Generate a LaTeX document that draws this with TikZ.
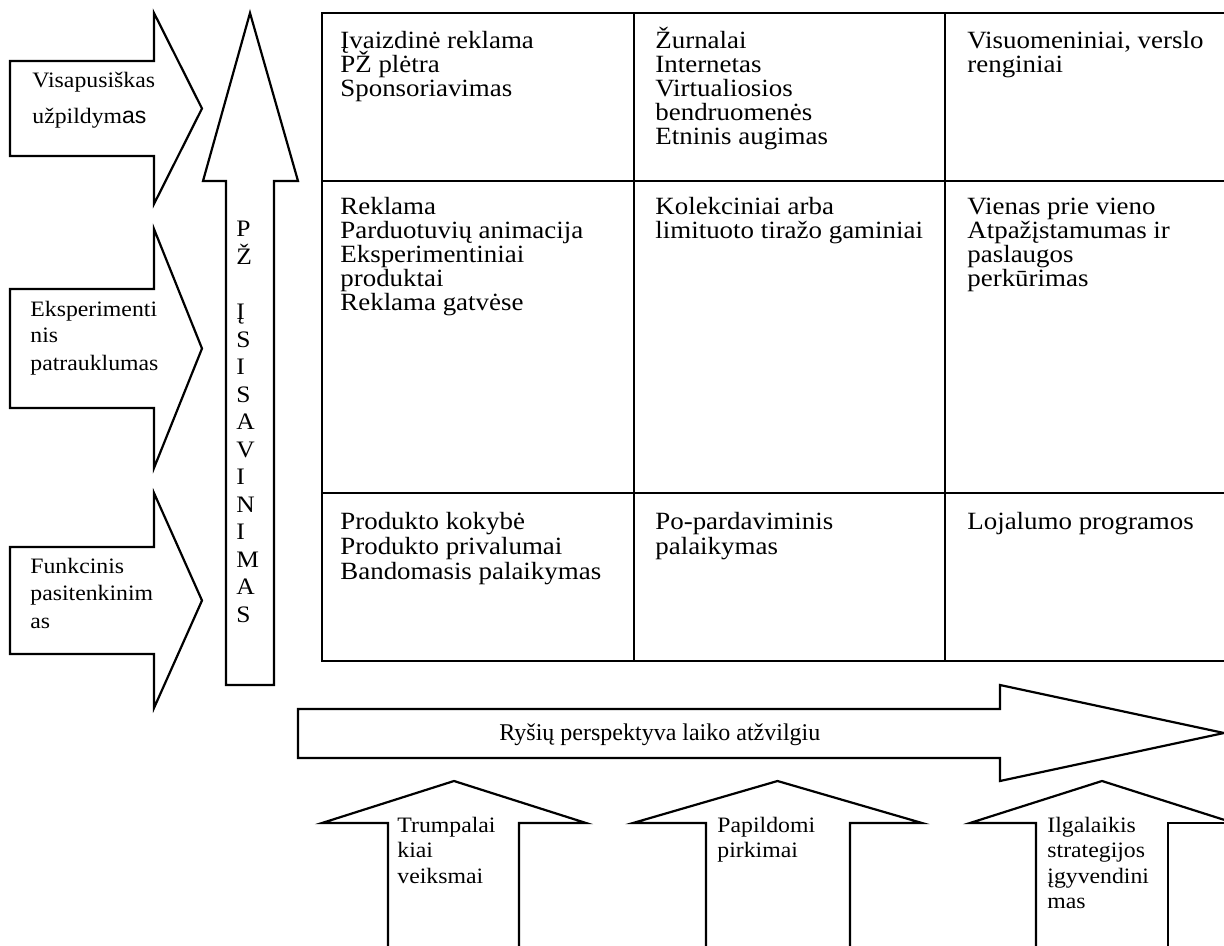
\documentclass[tikz,border=0pt]{standalone}
\usepackage{fontspec}
\setmainfont{Liberation Serif}
\newfontfamily\cellfont{Liberation Serif}[FakeStretch=1.085]
\newfontfamily\sidefont{Liberation Serif}[FakeStretch=1.08]
\newfontfamily\arialfont{Liberation Sans}

\tikzset{
  outline/.style={draw=black, line width=1.1pt, line join=miter},
  celltext/.style={anchor=base west, inner sep=0pt, font=\cellfont\fontsize{12.4}{14}\selectfont},
  sidetext/.style={anchor=base west, inner sep=0pt, font=\sidefont\fontsize{11}{13}\selectfont},
  lettertext/.style={anchor=base west, inner sep=0pt, font=\sidefont\fontsize{11.8}{14}\selectfont},
  axistext/.style={anchor=base west, inner sep=0pt, font=\fontsize{12}{14}\selectfont},
}

% name, style, x, first baseline, line pitch, list of lines
\newcommand\textlines[6]{%
  \foreach \t [count=\i from 0] in {#6}{%
    \node[#2] (#1-\i) at (#3,{#4+\i*#5}) {\t};
  }%
}

\begin{document}
\begin{tikzpicture}[x=0.5pt,y=-0.5pt]
\useasboundingbox (0,0) rectangle (1224,946);

% --- arrows on the left ---
\draw[outline] (10,61) -- (154,61) -- (154,13) -- (202,108.5) -- (154,204) -- (154,156) -- (10,156) -- cycle;
\draw[outline] (10,289) -- (154,289) -- (154,229) -- (202,348.5) -- (154,468) -- (154,408) -- (10,408) -- cycle;
\draw[outline] (10,547) -- (154,547) -- (154,493) -- (202,600.5) -- (154,708) -- (154,654) -- (10,654) -- cycle;

\node[sidetext] (l1-0) at (32,88) {Visapusiškas};
\node[sidetext] (l1-1) at (32,124) {užpildym{\arialfont\fontsize{11.5}{13}\selectfont as}};
\textlines{l2}{sidetext}{30}{316}{27}{Eksperimenti,nis,patrauklumas}
\textlines{l3}{sidetext}{30}{573}{27.5}{Funkcinis,pasitenkinim,as}

% --- vertical arrow ---
\draw[outline] (226,685) -- (226,181) -- (203,181) -- (250,13) -- (298,181) -- (274,181) -- (274,685) -- cycle;
\textlines{va}{lettertext}{236}{237}{27.5}{P,Ž}
\textlines{vb}{lettertext}{236}{319.5}{27.5}{Į,S,I,S,A,V,I,N,I,M,A,S}

% --- table ---
\draw[outline] (1224,13) -- (322,13) -- (322,661) -- (1224,661);
\draw[outline] (322,181) -- (1224,181);
\draw[outline] (322,493) -- (1224,493);
\draw[outline] (634,13) -- (634,661);
\draw[outline] (945,13) -- (945,661);

\textlines{c11}{celltext}{340}{49}{24}{Įvaizdinė reklama,PŽ plėtra,Sponsoriavimas}
\textlines{c12}{celltext}{655}{49}{24}{Žurnalai,Internetas,Virtualiosios,bendruomenės,Etninis augimas}
\textlines{c13}{celltext}{967}{49}{24}{{Visuomeniniai, verslo},renginiai}
\textlines{c21}{celltext}{340}{215}{24}{Reklama,Parduotuvių animacija,Eksperimentiniai,produktai,Reklama gatvėse}
\textlines{c22}{celltext}{655}{215}{24}{Kolekciniai arba,limituoto tiražo gaminiai}
\textlines{c23}{celltext}{967}{215}{24}{Vienas prie vieno,Atpažįstamumas ir,paslaugos,perkūrimas}
\textlines{c31}{celltext}{340}{529}{25}{Produkto kokybė,Produkto privalumai,Bandomasis palaikymas}
\textlines{c32}{celltext}{655}{529}{25}{Po-pardaviminis,palaikymas}
\textlines{c33}{celltext}{967}{529}{25}{Lojalumo programos}

% --- horizontal arrow ---
\draw[outline] (298,709) -- (1000,709) -- (1000,685) -- (1224,733) -- (1000,781) -- (1000,758) -- (298,758) -- cycle;
\node[axistext] (axis) at (499,740) {Ryšių perspektyva laiko atžvilgiu};

% --- arrows at the bottom ---
\draw[outline] (388,946) -- (388,823) -- (322,823) -- (454,781) -- (586,823) -- (519,823) -- (519,946);
\draw[outline] (706,946) -- (706,823) -- (633,823) -- (777.5,781) -- (922,823) -- (850,823) -- (850,946);
\draw[outline] (1036,946) -- (1036,823) -- (970,823) -- (1102,781) -- (1224,819.8);
\draw[outline] (1168,946) -- (1168,823) -- (1224,823);

\textlines{b1}{sidetext}{397}{832}{25.5}{Trumpalai,kiai,veiksmai}
\textlines{b2}{sidetext}{717}{832}{25.5}{Papildomi,pirkimai}
\textlines{b3}{sidetext}{1047}{832}{25.5}{Ilgalaikis,strategijos,įgyvendini,mas}
\end{tikzpicture}
\end{document}
